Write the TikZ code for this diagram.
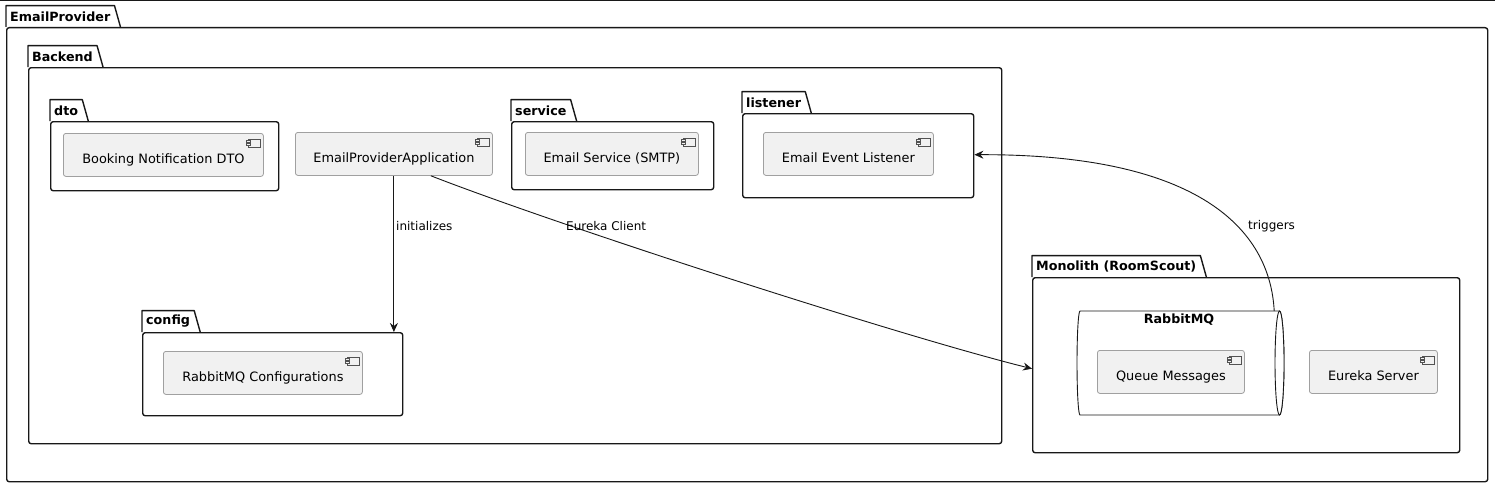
\documentclass[tikz,border=0pt]{standalone}
\usepackage{fontspec}
\setmainfont{DejaVu Sans}
\usetikzlibrary{calc,arrows.meta}
\definecolor{ink}{HTML}{181818}
\definecolor{compfill}{HTML}{F1F1F1}
\definecolor{compline}{HTML}{A0A0A0}
\tikzset{
  pkgline/.style={draw=ink, line width=1.4pt, line join=round},
  pkgbody/.style={pkgline, fill=white, rounded corners=2.5pt, anchor=north west, inner sep=0pt},
  pkgtitle/.style={font=\fontsize{12.7}{15}\selectfont\bfseries, text=black, inner xsep=4pt, inner ysep=0pt, minimum height=21pt},
  comp/.style={draw=compline, fill=compfill, line width=0.8pt, rounded corners=2.5pt, anchor=north west,
    minimum height=43pt, inner xsep=0pt, font=\fontsize{12.9}{15}\selectfont, text=black, text height=19.5pt, text depth=3pt},
  icon/.style={draw=ink!75, line width=0.6pt, fill=compfill},
  dbline/.style={draw=ink, line width=0.9pt, fill=white},
  flow/.style={draw=ink, line width=0.9pt, -{Stealth[length=9pt,width=8pt,inset=3pt]}},
  lab/.style={font=\fontsize{12}{14}\selectfont, text=black, inner sep=0pt},
}
% package: name, left, body top, right, bottom, title
\newcommand{\pkg}[6]{%
  \node[pkgbody, minimum width={#4pt-#2pt}, minimum height={#5pt-#3pt}] (#1) at (#2,#3) {};
  \node[pkgtitle, anchor=south west] (#1-tab) at (#2,#3) {#6};
  \draw[pkgline] (#1-tab.south west) -- (#1-tab.north west) -- (#1-tab.north east) -- ([xshift=6pt]#1-tab.south east);
}

\begin{document}
\begin{tikzpicture}[x=1pt,y=-1pt]
\useasboundingbox (0,0) rectangle (1495,487);
\draw[line width=1.2pt, ink] (0,0.6) -- (1495,0.6);

% packages
\pkg{emailprov}{6}{27}{1487}{481}{EmailProvider}
\pkg{backend}{28}{67}{1001}{443}{Backend}
\pkg{dto}{50}{121}{278}{190}{dto}
\pkg{service}{511}{121}{713}{189}{service}
\pkg{listener}{742}{113}{973}{197}{listener}
\pkg{config}{142}{332}{402}{415}{config}
\pkg{mono}{1032}{277}{1459}{452}{Monolith (RoomScout)}

% RabbitMQ queue
\node[inner sep=0pt, minimum width=207pt, minimum height=104pt, anchor=north west] (rabbit) at (1077,311) {};
\draw[dbline] (1080,311) -- (1279.5,311) arc[start angle=90, end angle=-90, x radius=4.5pt, y radius=52pt]
  -- (1080,415) arc[start angle=270, end angle=90, x radius=3pt, y radius=52pt] -- cycle;
\draw[dbline] (1279.5,363) ellipse [x radius=4.5pt, y radius=52pt];
\node[pkgtitle] (rabbit-title) at (1179,320) {RabbitMQ};

% components
\node[comp, minimum width=200pt] (dtoc) at (63,133) {Booking Notification DTO};
\node[comp, minimum width=197pt] (app) at (295,132) {EmailProviderApplication};
\node[comp, minimum width=173pt] (smtp) at (525,132) {Email Service (SMTP)};
\node[comp, minimum width=170pt] (evl) at (763,132) {Email Event Listener};
\node[comp, minimum width=199pt] (cfg) at (163,351) {RabbitMQ Configurations};
\node[comp, minimum width=147pt] (qmsg) at (1097,350) {Queue Messages};
\node[comp, minimum width=128pt] (eureka) at (1309,350) {Eureka Server};

\foreach \c in {dtoc,app,smtp,evl,cfg,qmsg,eureka} {
  \draw[icon] ($(\c.north east)+(-16,6)$) rectangle ++(12,8);
  \draw[icon] ($(\c.north east)+(-18,7.5)$) rectangle ++(4,2);
  \draw[icon] ($(\c.north east)+(-18,10.5)$) rectangle ++(4,2);
}

% connectors
\draw[flow] (app.south) -- (app.south |- config.north);
\node[lab, anchor=west] (l-init) at (396,226) {initializes};
\draw[flow] ([xshift=37pt]app.south) .. controls (560,226) and (900,336) .. ([yshift=-3.5pt]mono.west);
\node[lab, anchor=west] (l-eureka) at (566,226) {Eureka Client};
\draw[flow] ([xshift=93.5pt]rabbit.north) .. controls (1270,230) and (1200,154) .. ([yshift=1pt]listener.east);
\node[lab, anchor=west] (l-trig) at (1248,226) {triggers};
\end{tikzpicture}
\end{document}
